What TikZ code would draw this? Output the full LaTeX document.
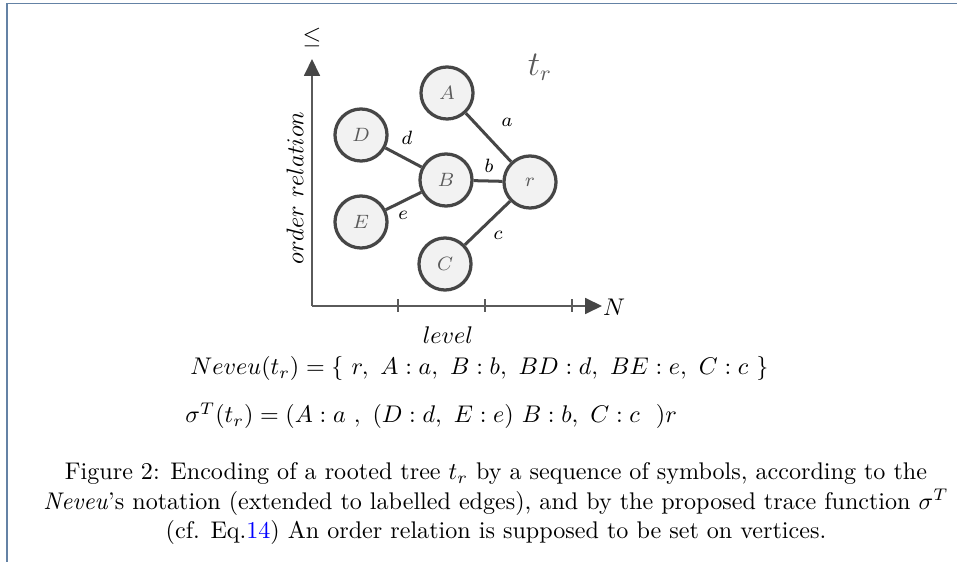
\documentclass[tikz,border=0pt]{standalone}
\usepackage{xcolor}
\usetikzlibrary{arrows.meta}
\definecolor{framec}{RGB}{100,130,165}
\definecolor{nodeedge}{RGB}{70,70,70}
\definecolor{nodefill}{RGB}{242,242,242}
\definecolor{axisc}{RGB}{90,90,90}
\definecolor{labelc}{RGB}{90,90,90}
\definecolor{linkc}{RGB}{0,0,255}
\begin{document}
\begin{tikzpicture}[x=0.415pt,y=-0.415pt,
  vert/.style={circle, draw=nodeedge, fill=nodefill, line width=1.35pt, minimum size=21.6pt, inner sep=0pt, text=labelc, font=\footnotesize},
  treeedge/.style={draw=nodeedge, line width=1.25pt},
  elabel/.style={font=\footnotesize, inner sep=0pt},
  axisline/.style={draw=axisc, line width=0.7pt},
  axarrow/.style={-{Triangle[length=7pt,width=6.6pt,color=nodeedge]}},
  txt/.style={anchor=base west, inner sep=0pt},
  ctxt/.style={anchor=base, inner sep=0pt}
]
\clip (0,0) rectangle (957,562);
% frame
\coordinate (fr0) at (7,3.5);
\coordinate (fr1) at (957,3.5);
\coordinate (fr2) at (7,562);
\draw[framec, line width=0.8pt] (fr1) -- (fr0) -- (fr2);

% axes
\coordinate (O) at (312,306);
\coordinate (ytop) at (312,59);
\coordinate (xend) at (602,306);
\draw[axisline, axarrow] (O) -- (ytop);
\draw[axisline, axarrow] (O) -- (xend);
\foreach \x in {398,485,572} \draw[axisline] (\x,299.5) -- (\x,312.5);

\node (le) at (312,37) {$\leq$};
\node (N) at (614,307) {$N$};
\node (lvl) at (448,335) {$level$};
\node[rotate=90] (ord) at (295,188) {$order\ relation$};
\node[text=labelc] (tr) at (540,67) {\fontsize{13.5}{16}\selectfont $t_r$};

% tree
\node[vert] (A) at (447,93) {$A$};
\node[vert] (D) at (361,135) {$D$};
\node[vert] (B) at (446,180) {$B$};
\node[vert] (r) at (530,182) {$r$};
\node[vert] (E) at (361,222) {$E$};
\node[vert] (C) at (445,264) {$C$};

\draw[treeedge] (A) -- (r);
\draw[treeedge] (B) -- (r);
\draw[treeedge] (D) -- (B);
\draw[treeedge] (E) -- (B);
\draw[treeedge] (C) -- (r);

\node[elabel] (la) at (507,122) {$a$};
\node[elabel] (ld) at (407,138) {$d$};
\node[elabel] (lb) at (489,166) {$b$};
\node[elabel] (lE) at (403,215) {$e$};
\node[elabel] (lc) at (498,235) {$c$};

% equations
\node[txt] (nev) at (190,375) {$Neveu(t_r) = \{\ r,\ A:a,\ B:b,\ BD:d,\ BE:e,\ C:c\ \}$};
\node[txt] (sig) at (185,423) {$\sigma^T(t_r) = (A:a\ ,\ (D:d,\ E:e)\ B:b,\ C:c\ \ )r$};

% caption
\coordinate (yc1) at (0,480);
\coordinate (yc3) at (0,538);
\node[txt] (cap2) at (43,509) {\textit{Neveu}'s notation (extended to labelled edges), and by the proposed trace function $\sigma^T$};
\node[ctxt] (cap1) at (cap2.base |- yc1) {Figure 2: Encoding of a rooted tree $t_r$ by a sequence of symbols, according to the};
\node[ctxt] (cap3) at (cap2.base |- yc3) {(cf. Eq.\textcolor{linkc}{14}) An order relation is supposed to be set on vertices.};
\end{tikzpicture}
\end{document}
